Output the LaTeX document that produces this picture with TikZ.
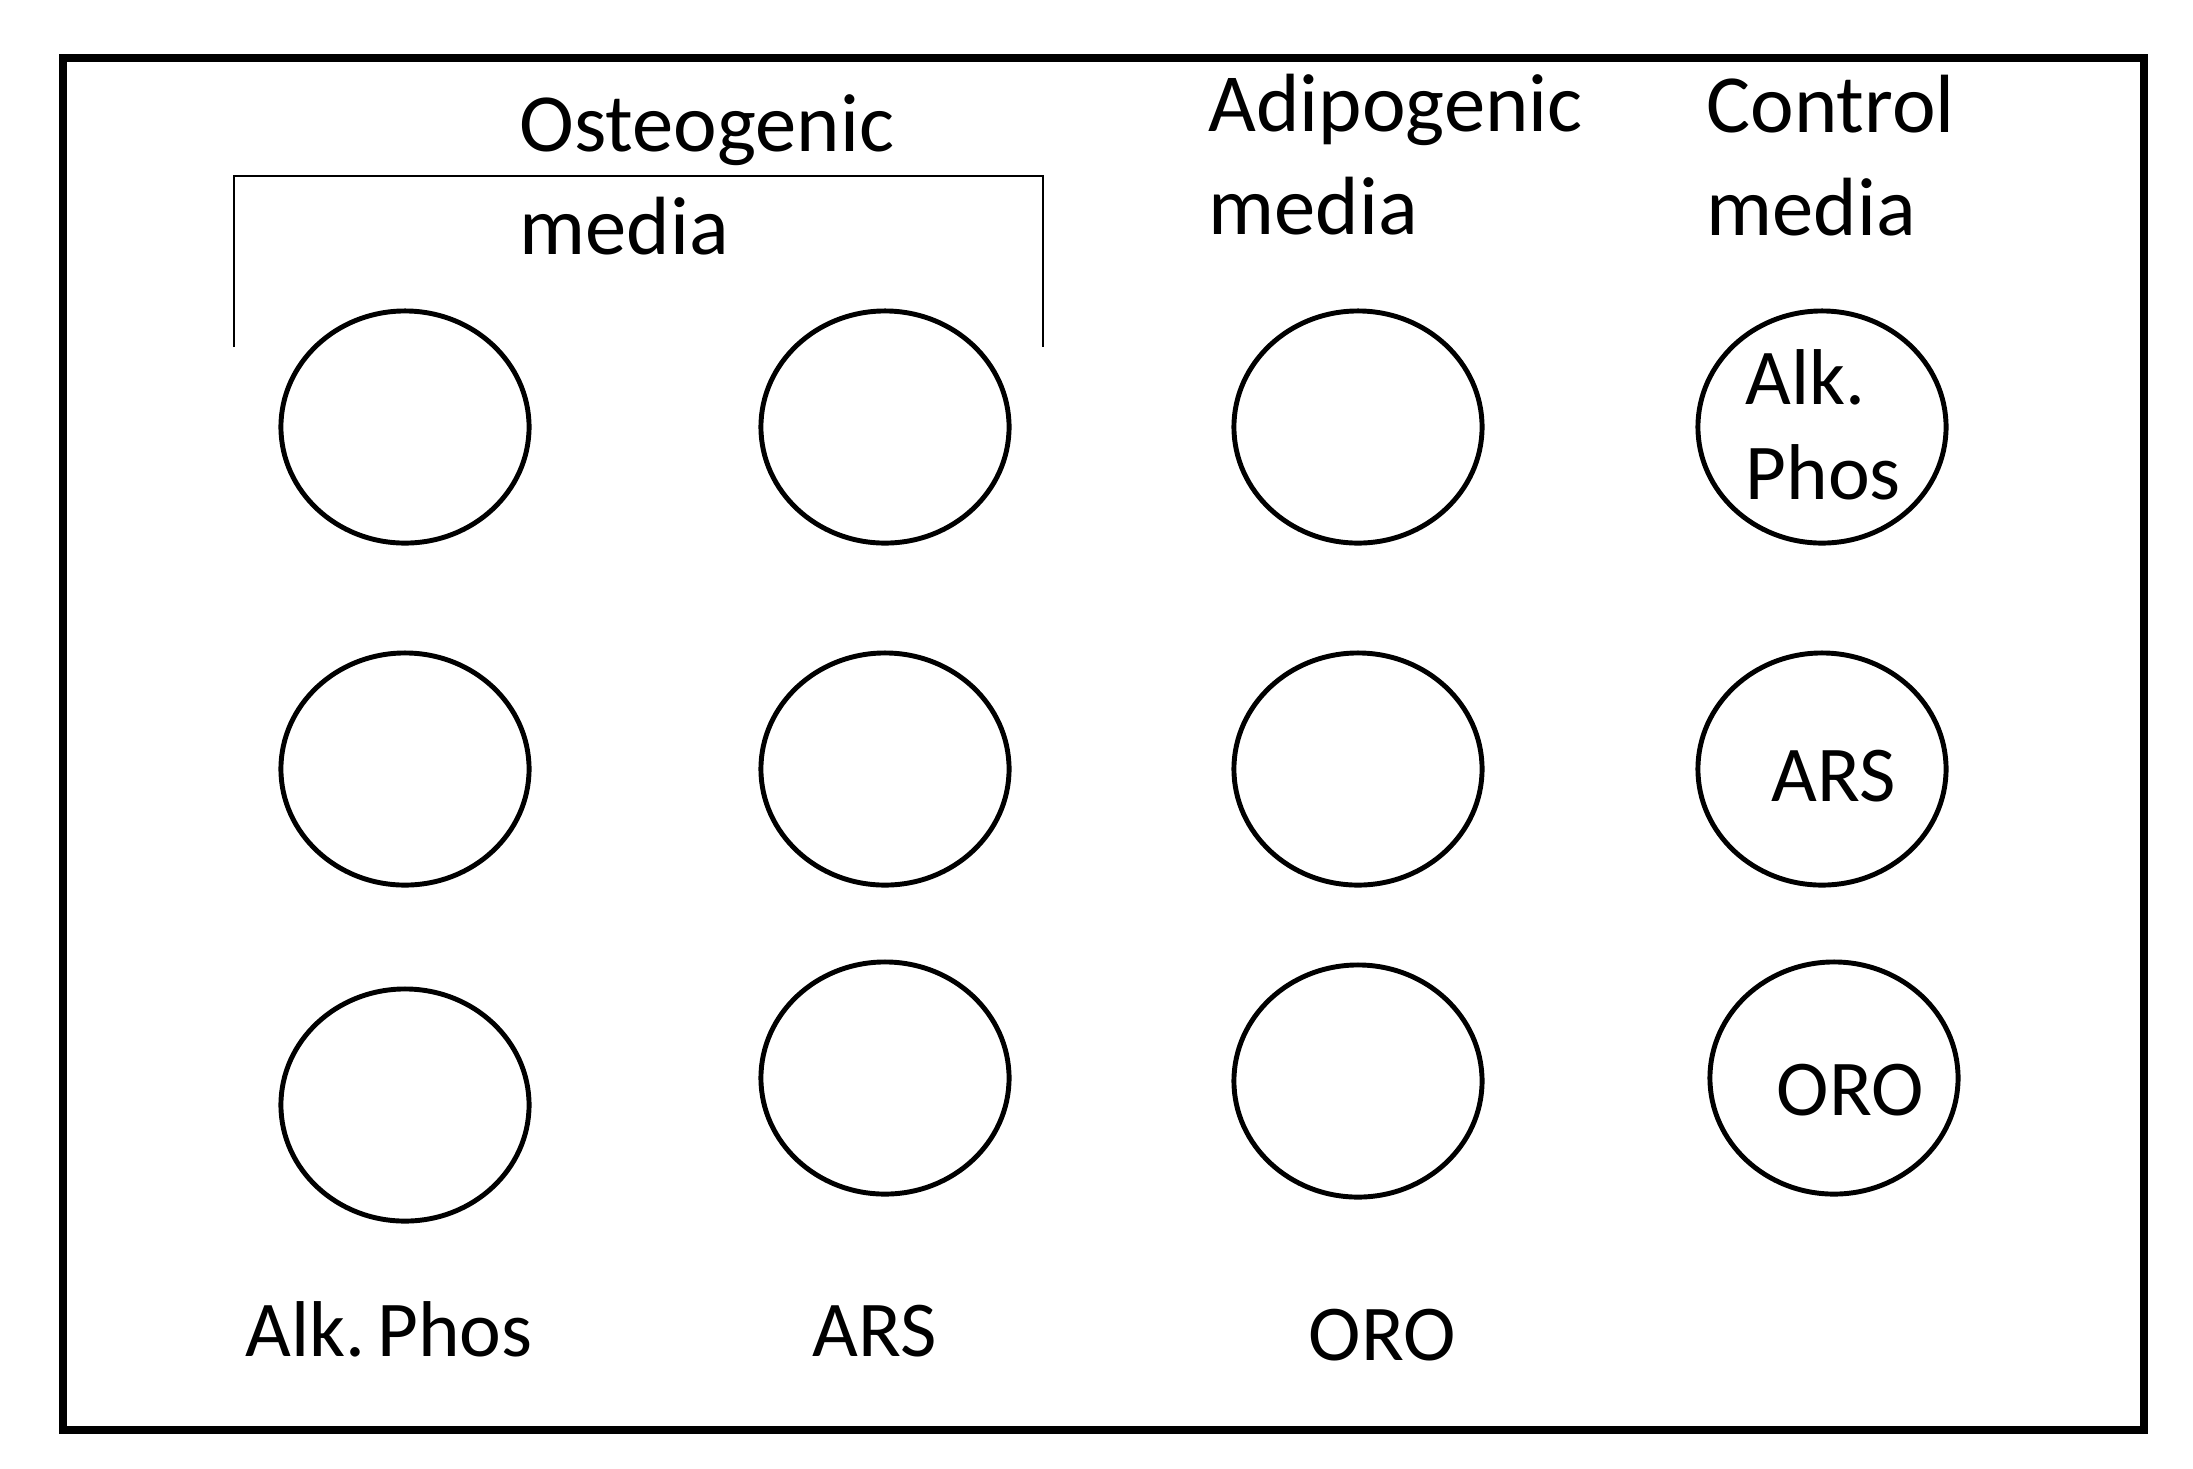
\documentclass[tikz,border=0pt]{standalone}
\usepackage{fontspec}
\setmainfont{Carlito}
\usetikzlibrary{shapes.geometric}
\begin{document}
\begin{tikzpicture}[x=0.01cm,y=-0.01cm,
  well/.style={draw, ellipse, line width=1.4pt, minimum width=2.48cm, minimum height=2.32cm, inner sep=0pt},
  head/.style={anchor=base west, inner sep=0pt, font=\fontsize{23.5}{28}\selectfont},
  lab/.style={anchor=base west, inner sep=0pt, font=\fontsize{22.5}{27}\selectfont},
  frame/.style={line width=2.28pt},
  bracket/.style={line width=0.6pt}]
\useasboundingbox (0,0) rectangle (2193,1468);
\draw[frame] (63,58) rectangle (2144,1430);

% headers
\node[head] (ost1) at (519,151) {Osteogenic};
\node[head] (ost2) at (519,254) {media};
\node[head] (adi1) at (1208,131) {Adipogenic};
\node[head] (adi2) at (1208,234) {media};
\node[head] (con1) at (1706,132) {Control};
\node[head] (con2) at (1706,235) {media};

% bracket
\coordinate (bl) at (234,347);
\coordinate (br) at (1043,347);
\draw[bracket] (bl) -- (234,176) -- (1043,176) -- (br);

% wells
\node[well] (w11) at (405,427) {};
\node[well] (w12) at (405,769) {};
\node[well] (w13) at (405,1105) {};
\node[well] (w21) at (885,427) {};
\node[well] (w22) at (885,769) {};
\node[well] (w23) at (885,1078) {};
\node[well] (w31) at (1358,427) {};
\node[well] (w32) at (1358,769) {};
\node[well] (w33) at (1358,1081) {};
\node[well] (w41) at (1822,427) {};
\node[well] (w42) at (1822,769) {};
\node[well] (w43) at (1834,1078) {};

% labels inside control wells
\node[lab] (c1a) at (1745,404) {Alk.};
\node[lab] (c1b) at (1745,499) {Phos};
\node[lab] (c2) at (1771,801) {ARS};
\node[lab] (c3) at (1776,1115) {ORO};

% bottom labels
\node[lab] (b1) at (245,1356) {Alk.\hspace{0.15em}Phos};
\node[lab] (b2) at (812,1356) {ARS};
\node[lab] (b3) at (1308,1360) {ORO};
\end{tikzpicture}
\end{document}
